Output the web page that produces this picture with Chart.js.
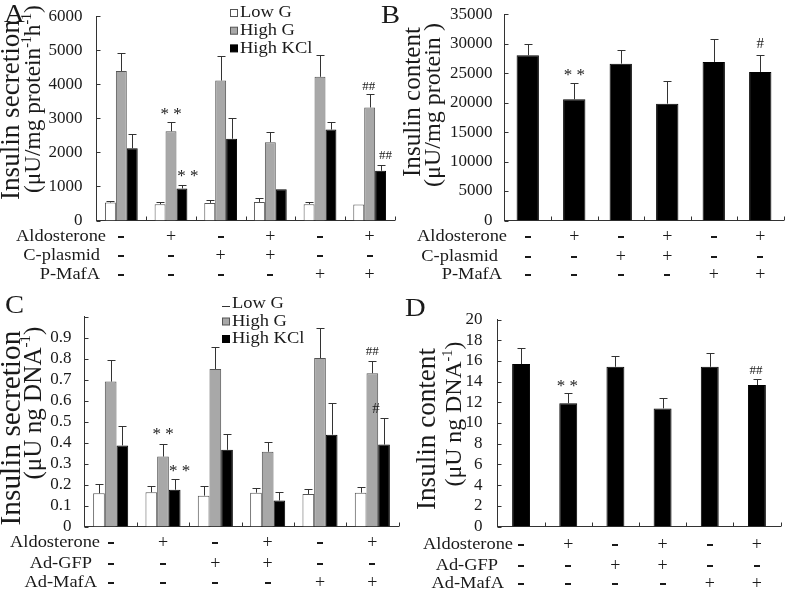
<!DOCTYPE html>
<html>
<head>
<meta charset="utf-8">
<script src="https://cdn.jsdelivr.net/npm/chart.js@4.4.1/dist/chart.umd.min.js"></script>
<style>
  html, body { margin: 0; padding: 0; background: #fff; }
  #wrap { position: relative; width: 787px; height: 599px; }
  canvas { position: absolute; left: 0; top: 0; }
</style>
</head>
<body>
<div id="wrap">
  <canvas id="cA" width="787" height="599"></canvas>
  <canvas id="cB" width="787" height="599"></canvas>
  <canvas id="cC" width="787" height="599"></canvas>
  <canvas id="cD" width="787" height="599"></canvas>
</div>
<script>
'use strict';

/* Data */

var groups = ['1', '2', '3', '4', '5', '6'];
var aldosterone = ['-', '+', '-', '+', '-', '+'];
var ctrlVector = ['-', '-', '+', '+', '-', '-'];   // C-plasmid / Ad-GFP
var mafaVector = ['-', '-', '-', '-', '+', '+'];   // P-MafA / Ad-MafA
var seriesNames = ['Low G', 'High G', 'High KCl'];

// A - insulin secretion per mg protein
var secLowG = [529, 479, 517, 546, 479, 470];
var secLowGErr = [37, 50, 79, 128, 67, 0];
var secHighG = [4390, 2620, 4110, 2300, 4220, 3320];
var secHighGErr = [540, 260, 720, 290, 630, 390];
var secKCl = [2120, 940, 2400, 920, 2670, 1460];
var secKClErr = [430, 110, 610, 0, 210, 160];
var secAxis = [0, 6000, 1000];          // min, max, step
var secMarks = [[1, 1, '**'], [2, 1, '**'], [1, 5, '##'], [2, 5, '##']];

// B - insulin content per mg protein
var content = [28030, 20550, 26610, 19820, 26900, 25200];
var contentErr = [1870, 2780, 2270, 3790, 3850, 2940];
var contentAxis = [0, 35000, 5000];
var contentMarks = [[0, 1, '**'], [0, 5, '#']];

// C - insulin secretion per ng DNA
var dnaSecLowG = [0.158, 0.163, 0.147, 0.161, 0.155, 0.161];
var dnaSecLowGErr = [0.044, 0.031, 0.047, 0.022, 0.025, 0.025];
var dnaSecHighG = [0.690, 0.333, 0.750, 0.356, 0.802, 0.730];
var dnaSecHighGErr = [0.104, 0.061, 0.107, 0.047, 0.143, 0.060];
var dnaSecKCl = [0.386, 0.175, 0.365, 0.124, 0.437, 0.390];
var dnaSecKClErr = [0.094, 0.051, 0.076, 0.038, 0.151, 0.129];
var dnaSecAxis = [0, 1, 0.1];
var dnaSecMarks = [[1, 1, '**'], [2, 1, '**'], [1, 5, '##'], [2, 5, '#']];

// D - insulin content per ng DNA
var dnaContent = [15.69, 11.9, 15.43, 11.41, 15.43, 13.67];
var dnaContentErr = [1.6, 0.96, 1.07, 0.97, 1.35, 0.57];
var dnaContentAxis = [0, 20, 2];
var dnaContentMarks = [[0, 1, '**'], [0, 5, '##']];

/* Styles */

var W = 787, H = 599;
var FONT = '"Liberation Serif", "Times New Roman", serif';
var INK = '#1a1a1a';
var WHITE = { bg: '#ffffff', border: '#555555' };
var GREY = { bg: '#a8a8a8', border: '#555555' };
var BLACK = { bg: '#000000', border: '#000000' };
var markSize = { '**': 17, '##': 13, '#': 15 };

function series(names, values, errs, styles) {
  return values.map(function(v, k) {
    return { label: names[k], data: v, err: errs[k], bg: styles[k].bg, border: styles[k].border };
  });
}

var panels = [
  {
    id: 'cA', letter: 'A', letterAt: [4, 15],
    area: { left: 96.5, top: 14, right: 394.5, bottom: 220.5 },
    axis: secAxis, tickPad: 6, catPct: 0.66,
    series: series(seriesNames, [secLowG, secHighG, secKCl], [secLowGErr, secHighGErr, secKClErr], [WHITE, GREY, BLACK]),
    legend: { x: 230, y: 13, gap: 17.7, dash: false },
    title: [
      { parts: [{ t: 'Insulin secretion' }], x: 12, y: 110, len: 180 },
      { parts: [{ t: '(\u03bcU/mg protein' }, { t: '-1', sup: true }, { t: 'h' }, { t: '-1', sup: true }, { t: ')' }], x: 34, y: 99, len: 188 }
    ],
    rows: { names: ['Aldosterone', 'C-plasmid', 'P-MafA'], signs: [aldosterone, ctrlVector, mafaVector], y: [237, 256, 275], right: [106, 100, 100] },
    marks: secMarks, nudge: [[0, 11], [6, 11], [-1, 8], [5, 10]]
  },
  {
    id: 'cB', letter: 'B', letterAt: [381, 16],
    area: { left: 504.5, top: 14, right: 783.5, bottom: 220.5 },
    axis: contentAxis, tickPad: 4, catPct: 0.48,
    series: series(['Content'], [content], [contentErr], [BLACK]),
    legend: null,
    title: [
      { parts: [{ t: 'Insulin content' }], x: 413.5, y: 102, len: 150 },
      { parts: [{ t: '(\u03bcU/mg protein )' }], x: 434, y: 105, len: 164 }
    ],
    rows: { names: ['Aldosterone', 'C-plasmid', 'P-MafA'], signs: [aldosterone, ctrlVector, mafaVector], y: [237, 257, 275], right: [507, 498, 502] },
    marks: contentMarks, nudge: [[0, 11], [0, 11]]
  },
  {
    id: 'cC', letter: 'C', letterAt: [5, 306],
    area: { left: 84.5, top: 316.5, right: 398.5, bottom: 526.5 },
    axis: dnaSecAxis, tickPad: 5, catPct: 0.67, hideAbove: 0.95,
    series: series(seriesNames, [dnaSecLowG, dnaSecHighG, dnaSecKCl], [dnaSecLowGErr, dnaSecHighGErr, dnaSecKClErr], [WHITE, GREY, BLACK]),
    legend: { x: 222, y: 304, gap: 17.5, dash: true },
    title: [
      { parts: [{ t: 'Insulin secretion' }], x: 12, y: 428, len: 195 },
      { parts: [{ t: '(\u03bcU ng DNA' }, { t: '-1', sup: true }, { t: ')' }], x: 34, y: 403, len: 153 }
    ],
    rows: { names: ['Aldosterone', 'Ad-GFP', 'Ad-MafA'], signs: [aldosterone, ctrlVector, mafaVector], y: [543, 564, 583], right: [100, 92, 97] },
    marks: dnaSecMarks, nudge: [[0, 12], [5, 11], [0, 9], [-8, 8]]
  },
  {
    id: 'cD', letter: 'D', letterAt: [405, 309],
    area: { left: 497.5, top: 319.5, right: 780.5, bottom: 526.5 },
    axis: dnaContentAxis, tickPad: 7, catPct: 0.38,
    series: series(['Content'], [dnaContent], [dnaContentErr], [BLACK]),
    legend: null,
    title: [
      { parts: [{ t: 'Insulin content' }], x: 428, y: 429, len: 162 },
      { parts: [{ t: '(\u03bcU ng DNA' }, { t: '-1', sup: true }, { t: ')' }], x: 455, y: 414, len: 145 }
    ],
    rows: { names: ['Aldosterone', 'Ad-GFP', 'Ad-MafA'], signs: [aldosterone, ctrlVector, mafaVector], y: [545, 566, 584], right: [513, 498, 504] },
    marks: dnaContentMarks, nudge: [[-1, 10], [-1, 9]]
  }
];

/* Drawing helpers */

function text(ctx, s, x, y, size, align, sx) {
  ctx.save();
  ctx.translate(x, y);
  ctx.scale(sx || 1, 1);
  ctx.font = size + 'px ' + FONT;
  ctx.fillStyle = INK;
  ctx.textAlign = align || 'left';
  ctx.textBaseline = 'middle';
  ctx.fillText(s, 0, 0);
  ctx.restore();
}

function richWidth(ctx, parts, size) {
  var w = 0;
  parts.forEach(function(p) {
    ctx.font = (p.sup ? size * 0.6 : size) + 'px ' + FONT;
    w += ctx.measureText(p.t).width;
  });
  return w;
}

function verticalTitle(ctx, line) {
  ctx.save();
  var size = 20 * line.len / richWidth(ctx, line.parts, 20);
  ctx.translate(line.x, line.y);
  ctx.rotate(-Math.PI / 2);
  ctx.fillStyle = INK;
  ctx.textBaseline = 'middle';
  ctx.textAlign = 'left';
  var x = -line.len / 2;
  line.parts.forEach(function(p) {
    var fs = p.sup ? size * 0.6 : size;
    ctx.font = fs + 'px ' + FONT;
    ctx.fillText(p.t, x, p.sup ? -size * 0.3 : 0);
    x += ctx.measureText(p.t).width;
  });
  ctx.restore();
}

function line(ctx, x1, y1, x2, y2) {
  ctx.beginPath();
  ctx.moveTo(x1, y1);
  ctx.lineTo(x2, y2);
  ctx.stroke();
}

function crisp(v) { return Math.round(v) + 0.5; }

function panelPlugin(p) {
  return {
    id: 'panel' + p.letter,

    // error bars, upward only
    afterDatasetsDraw: function(chart) {
      var ctx = chart.ctx, ys = chart.scales.y;
      ctx.save();
      ctx.strokeStyle = '#333';
      ctx.lineWidth = 1;
      p.series.forEach(function(s, d) {
        var meta = chart.getDatasetMeta(d);
        s.err.forEach(function(e, i) {
          if (!e) return;
          var bar = meta.data[i];
          var x = crisp(bar.x);
          var top = crisp(ys.getPixelForValue(s.data[i] + e));
          line(ctx, x, bar.y, x, top);
          line(ctx, x - 4, top, x + 4, top);
        });
      });
      ctx.restore();
    },

    afterDraw: function(chart) {
      var ctx = chart.ctx, xs = chart.scales.x, ys = chart.scales.y, a = chart.chartArea;
      ctx.save();
      ctx.strokeStyle = '#333';
      ctx.lineWidth = 1;

      // inward tick marks
      ys.ticks.forEach(function(t) {
        var py = crisp(ys.getPixelForValue(t.value));
        line(ctx, a.left, py, a.left + 4, py);
      });
      for (var i = 1; i <= groups.length; i++) {
        var px = crisp(xs.getPixelForValue(i - 0.5));
        line(ctx, px, a.bottom, px, a.bottom - 4);
      }

      // significance marks
      p.marks.forEach(function(m, k) {
        var s = p.series[m[0]];
        var bar = chart.getDatasetMeta(m[0]).data[m[1]];
        var top = ys.getPixelForValue(s.data[m[1]] + s.err[m[1]]);
        var size = markSize[m[2]];
        var cy = top - p.nudge[k][1];
        if (m[2] === '**') {
          text(ctx, '* *', bar.x + p.nudge[k][0], cy + size * 0.19, size, 'center', 1);
        } else {
          text(ctx, m[2], bar.x + p.nudge[k][0], cy, size, 'center', 1);
        }
      });

      // legend
      if (p.legend) {
        var L = p.legend;
        p.series.forEach(function(s, k) {
          var cy = L.y + k * L.gap;
          if (k === 0 && L.dash) {
            line(ctx, L.x, crisp(cy + 2), L.x + 8, crisp(cy + 2));
          } else {
            ctx.fillStyle = s.bg;
            ctx.fillRect(L.x + 0.5, cy - 3.5, 7, 7);
            ctx.strokeStyle = s.border;
            ctx.strokeRect(L.x + 0.5, cy - 3.5, 7, 7);
            ctx.strokeStyle = '#333';
          }
          text(ctx, s.label, L.x + 10, cy, 16.5, 'left', 1.12);
        });
      }

      // treatment rows
      p.rows.names.forEach(function(name, r) {
        text(ctx, name, p.rows.right[r], p.rows.y[r], 16, 'right', 1.15);
        p.rows.signs[r].forEach(function(sign, g) {
          var sx = xs.getPixelForValue(g);
          if (sign === '-') {
            ctx.fillStyle = INK;
            ctx.fillRect(Math.round(sx) - 3, Math.round(p.rows.y[r]) - 1, 6, 2);
          } else {
            text(ctx, '+', sx, p.rows.y[r], 18, 'center', 1);
          }
        });
      });

      // axis title and panel letter
      p.title.forEach(function(t) { verticalTitle(ctx, t); });
      text(ctx, p.letter, p.letterAt[0], p.letterAt[1], 26, 'left', 1.1);
      ctx.restore();
    }
  };
}

function makeChart(p) {
  var ctx = document.getElementById(p.id).getContext('2d');
  var yWidth = 66, xHeight = 10;
  return new Chart(ctx, {
    type: 'bar',
    data: {
      labels: groups,
      datasets: p.series.map(function(s) {
        return {
          label: s.label,
          data: s.data,
          backgroundColor: s.bg,
          borderColor: s.border,
          borderWidth: 1,
          barPercentage: 1,
          categoryPercentage: p.catPct
        };
      })
    },
    options: {
      responsive: false,
      animation: false,
      events: [],
      layout: {
        padding: {
          left: p.area.left - yWidth,
          top: p.area.top,
          right: W - p.area.right,
          bottom: H - p.area.bottom - xHeight
        }
      },
      plugins: { legend: { display: false }, tooltip: { enabled: false } },
      scales: {
        x: {
          grid: { display: false },
          ticks: { display: false },
          border: { color: '#333', width: 1 },
          afterFit: function(scale) { scale.height = xHeight; }
        },
        y: {
          min: p.axis[0],
          max: p.axis[1],
          grid: { display: false },
          border: { color: '#333', width: 1 },
          ticks: {
            stepSize: p.axis[2],
            autoSkip: false,
            padding: p.tickPad,
            color: INK,
            font: { family: FONT, size: 17 },
            callback: function(v) {
              if (p.hideAbove !== undefined && v > p.hideAbove) return '';
              return String(Math.round(v * 100) / 100);
            }
          },
          afterFit: function(scale) { scale.width = yWidth; }
        }
      }
    },
    plugins: [panelPlugin(p)]
  });
}

panels.forEach(makeChart);
</script>
</body>
</html>
